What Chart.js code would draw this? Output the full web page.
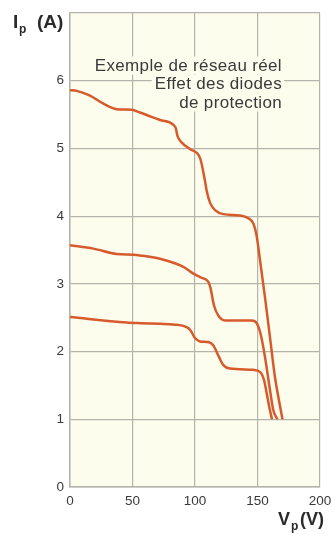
<!DOCTYPE html>
<html>
<head>
<meta charset="utf-8">
<script src="https://cdn.jsdelivr.net/npm/chart.js@4/dist/chart.umd.min.js"></script>
<style>
  html, body { margin: 0; padding: 0; background: #ffffff; }
  #wrap { width: 332px; height: 534px; }
</style>
</head>
<body>
<div id="wrap"><canvas id="c" width="332" height="534"></canvas></div>
<script>
// I-V curves of a PV array with bypass diodes (V in volts, I in amperes)
const curveHighV = [0, 5.3, 16, 26.7, 37.3, 49.3, 56, 72, 82.7, 84.8, 85.9, 89.3, 96, 104, 108, 109.3, 112, 116, 122.7, 136, 142.7, 146.7, 149.3, 152, 156, 160, 164, 170];
const curveHighI = [5.86, 5.85, 5.78, 5.66, 5.58, 5.57, 5.53, 5.42, 5.35, 5.29, 5.19, 5.09, 4.99, 4.86, 4.52, 4.38, 4.20, 4.09, 4.03, 4.01, 3.97, 3.89, 3.71, 3.35, 2.80, 2.21, 1.62, 1.0];

const curveMidV = [0, 18.7, 37.3, 50.7, 56, 72, 90.7, 98.7, 105.3, 110.7, 112.5, 115.2, 118.7, 124, 145.3, 149.3, 152.5, 156, 160, 162.7, 165.9];
const curveMidI = [3.57, 3.52, 3.44, 3.43, 3.42, 3.37, 3.25, 3.15, 3.09, 3.03, 2.93, 2.68, 2.53, 2.46, 2.46, 2.42, 2.26, 1.92, 1.43, 1.13, 1.0];

const curveLowV = [0, 45.3, 56, 72, 82.7, 93.3, 96.5, 100, 104, 110.7, 114.7, 118.7, 122.7, 128, 146.7, 152, 155.2, 157.9, 160, 161.6];
const curveLowI = [2.51, 2.43, 2.42, 2.41, 2.40, 2.36, 2.31, 2.20, 2.15, 2.14, 2.09, 1.94, 1.80, 1.75, 1.73, 1.70, 1.58, 1.33, 1.13, 1.0];

const xTicks = [0, 50, 100, 150, 200];
const yTicks = [0, 1, 2, 3, 4, 5, 6];
const noteLines = ['Exemple de réseau réel', 'Effet des diodes', 'de protection'];

const LINE_COLOR = '#d65a2c';
const GRID_COLOR = '#b4b4aa';
const PLOT_BG = '#fdfdee';
const TEXT_COLOR = '#3a3a3a';

function pairs(xs, ys) { return xs.map((x, i) => ({ x: x, y: ys[i] })); }

function curve(xs, ys) {
  return {
    data: pairs(xs, ys),
    borderColor: LINE_COLOR,
    borderWidth: 2.5,
    pointRadius: 0,
    fill: false,
    cubicInterpolationMode: 'monotone'
  };
}

// cream plot background
const plotBackground = {
  id: 'plotBackground',
  beforeDraw(chart) {
    const { ctx, chartArea: a } = chart;
    ctx.save();
    ctx.fillStyle = PLOT_BG;
    ctx.fillRect(a.left, a.top, a.right - a.left, a.bottom - a.top);
    ctx.restore();
  }
};

// right-aligned note over the grid, each line on its own backing strip
const notePlugin = {
  id: 'note',
  beforeDatasetsDraw(chart) {
    const ctx = chart.ctx;
    ctx.save();
    ctx.font = '17px "Liberation Sans", Arial, sans-serif';
    ctx.letterSpacing = '0.35px';
    ctx.textAlign = 'right';
    ctx.textBaseline = 'alphabetic';
    const right = 282;
    const baselines = [70.5, 89, 107.5];
    noteLines.forEach((t, i) => {
      const w = ctx.measureText(t).width;
      ctx.fillStyle = PLOT_BG;
      ctx.fillRect(right - w - 3, baselines[i] - 14, w + 5, 18);
    });
    ctx.fillStyle = TEXT_COLOR;
    noteLines.forEach((t, i) => ctx.fillText(t, right, baselines[i]));
    ctx.restore();
  }
};

// axis names with subscripts
const axisNames = {
  id: 'axisNames',
  afterDraw(chart) {
    const ctx = chart.ctx;
    ctx.save();
    ctx.fillStyle = '#2a2a2a';
    ctx.textAlign = 'left';
    ctx.textBaseline = 'alphabetic';
    ctx.font = 'bold 19px "Liberation Sans", Arial, sans-serif';
    ctx.fillText('I', 13, 28);
    ctx.font = 'bold 12px "Liberation Sans", Arial, sans-serif';
    ctx.fillText('p', 19, 33);
    ctx.font = 'bold 19px "Liberation Sans", Arial, sans-serif';
    ctx.fillText('(A)', 37, 28);

    ctx.font = 'bold 18px "Liberation Sans", Arial, sans-serif';
    ctx.fillText('V', 278, 525);
    ctx.font = 'bold 12px "Liberation Sans", Arial, sans-serif';
    ctx.fillText('p', 291, 530);
    ctx.font = 'bold 18px "Liberation Sans", Arial, sans-serif';
    ctx.fillText('(V)', 300, 525);
    ctx.restore();
  }
};

new Chart(document.getElementById('c'), {
  type: 'line',
  data: {
    datasets: [
      curve(curveHighV, curveHighI),
      curve(curveMidV, curveMidI),
      curve(curveLowV, curveLowI)
    ]
  },
  options: {
    responsive: false,
    animation: false,
    events: [],
    layout: { padding: { left: 0, right: 12, top: 13, bottom: 0 } },
    plugins: { legend: { display: false }, tooltip: { enabled: false } },
    scales: {
      x: {
        type: 'linear',
        min: 0,
        max: 200,
        afterBuildTicks(scale) { scale.ticks = xTicks.map(v => ({ value: v })); },
        afterFit(scale) { scale.height = 47; scale.paddingLeft = 0; scale.paddingRight = 0; },
        grid: { color: GRID_COLOR, lineWidth: 1.2, drawTicks: false },
        border: { color: GRID_COLOR, width: 1.5 },
        ticks: {
          padding: 6,
          color: TEXT_COLOR,
          font: { family: '"Liberation Sans", Arial, sans-serif', size: 13.5 }
        }
      },
      y: {
        type: 'linear',
        min: 0,
        max: 7,
        afterBuildTicks(scale) { scale.ticks = yTicks.concat([7]).map(v => ({ value: v })); },
        afterFit(scale) { scale.width = 70; scale.paddingTop = 0; scale.paddingBottom = 0; },
        grid: { color: GRID_COLOR, lineWidth: 1.2, drawTicks: false },
        border: { color: GRID_COLOR, width: 1.5 },
        ticks: {
          padding: 6,
          color: TEXT_COLOR,
          font: { family: '"Liberation Sans", Arial, sans-serif', size: 13.5 },
          callback: v => (yTicks.includes(v) ? String(v) : '')
        }
      }
    }
  },
  plugins: [plotBackground, notePlugin, axisNames]
});
</script>
</body>
</html>
